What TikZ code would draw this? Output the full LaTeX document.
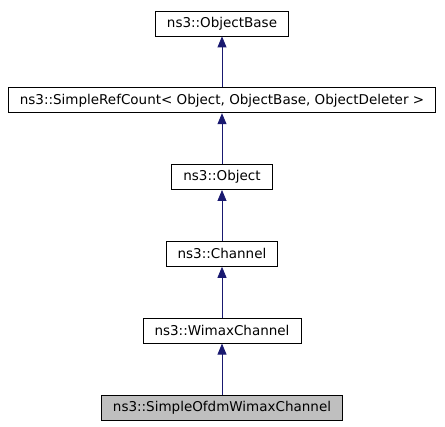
\documentclass[tikz,border=0pt]{standalone}
\usepackage{fontspec}
\setmainfont{DejaVu Sans}
\usetikzlibrary{arrows.meta, positioning}
\definecolor{edgeblue}{RGB}{25,25,112}
\definecolor{curgray}{RGB}{191,191,191}

\begin{document}
\begin{tikzpicture}[
    x=1pt, y=1pt,
    node distance=51pt,
    clsbox/.style={draw=black, rectangle, line width=0.8pt,
                   minimum height=25pt, inner xsep=11.5pt,
                   fill=white, font=\fontsize{13.5}{16}\selectfont},
    curbox/.style={clsbox, fill=curgray},
    inh/.style={-{Triangle[length=11pt, width=9pt]}, line width=0.8pt, color=edgeblue}
  ]
    \useasboundingbox (0,0) rectangle (445,-427);

    \node[clsbox] at (222,-23.5)   (objbase) {ns3::ObjectBase};
    \node[clsbox, below=of objbase] (refcnt)  {ns3::SimpleRefCount< Object, ObjectBase, ObjectDeleter >};
    \node[clsbox, below=of refcnt]  (object)  {ns3::Object};
    \node[clsbox, below=of object]  (chan)    {ns3::Channel};
    \node[clsbox, below=of chan]    (wimax)   {ns3::WimaxChannel};
    \node[curbox, below=of wimax]   (ofdm)    {ns3::SimpleOfdmWimaxChannel};

    \draw[inh] (refcnt) -- (objbase);
    \draw[inh] (object) -- (refcnt);
    \draw[inh] (chan)   -- (object);
    \draw[inh] (wimax)  -- (chan);
    \draw[inh] (ofdm)   -- (wimax);
  \end{tikzpicture}
\end{document}
